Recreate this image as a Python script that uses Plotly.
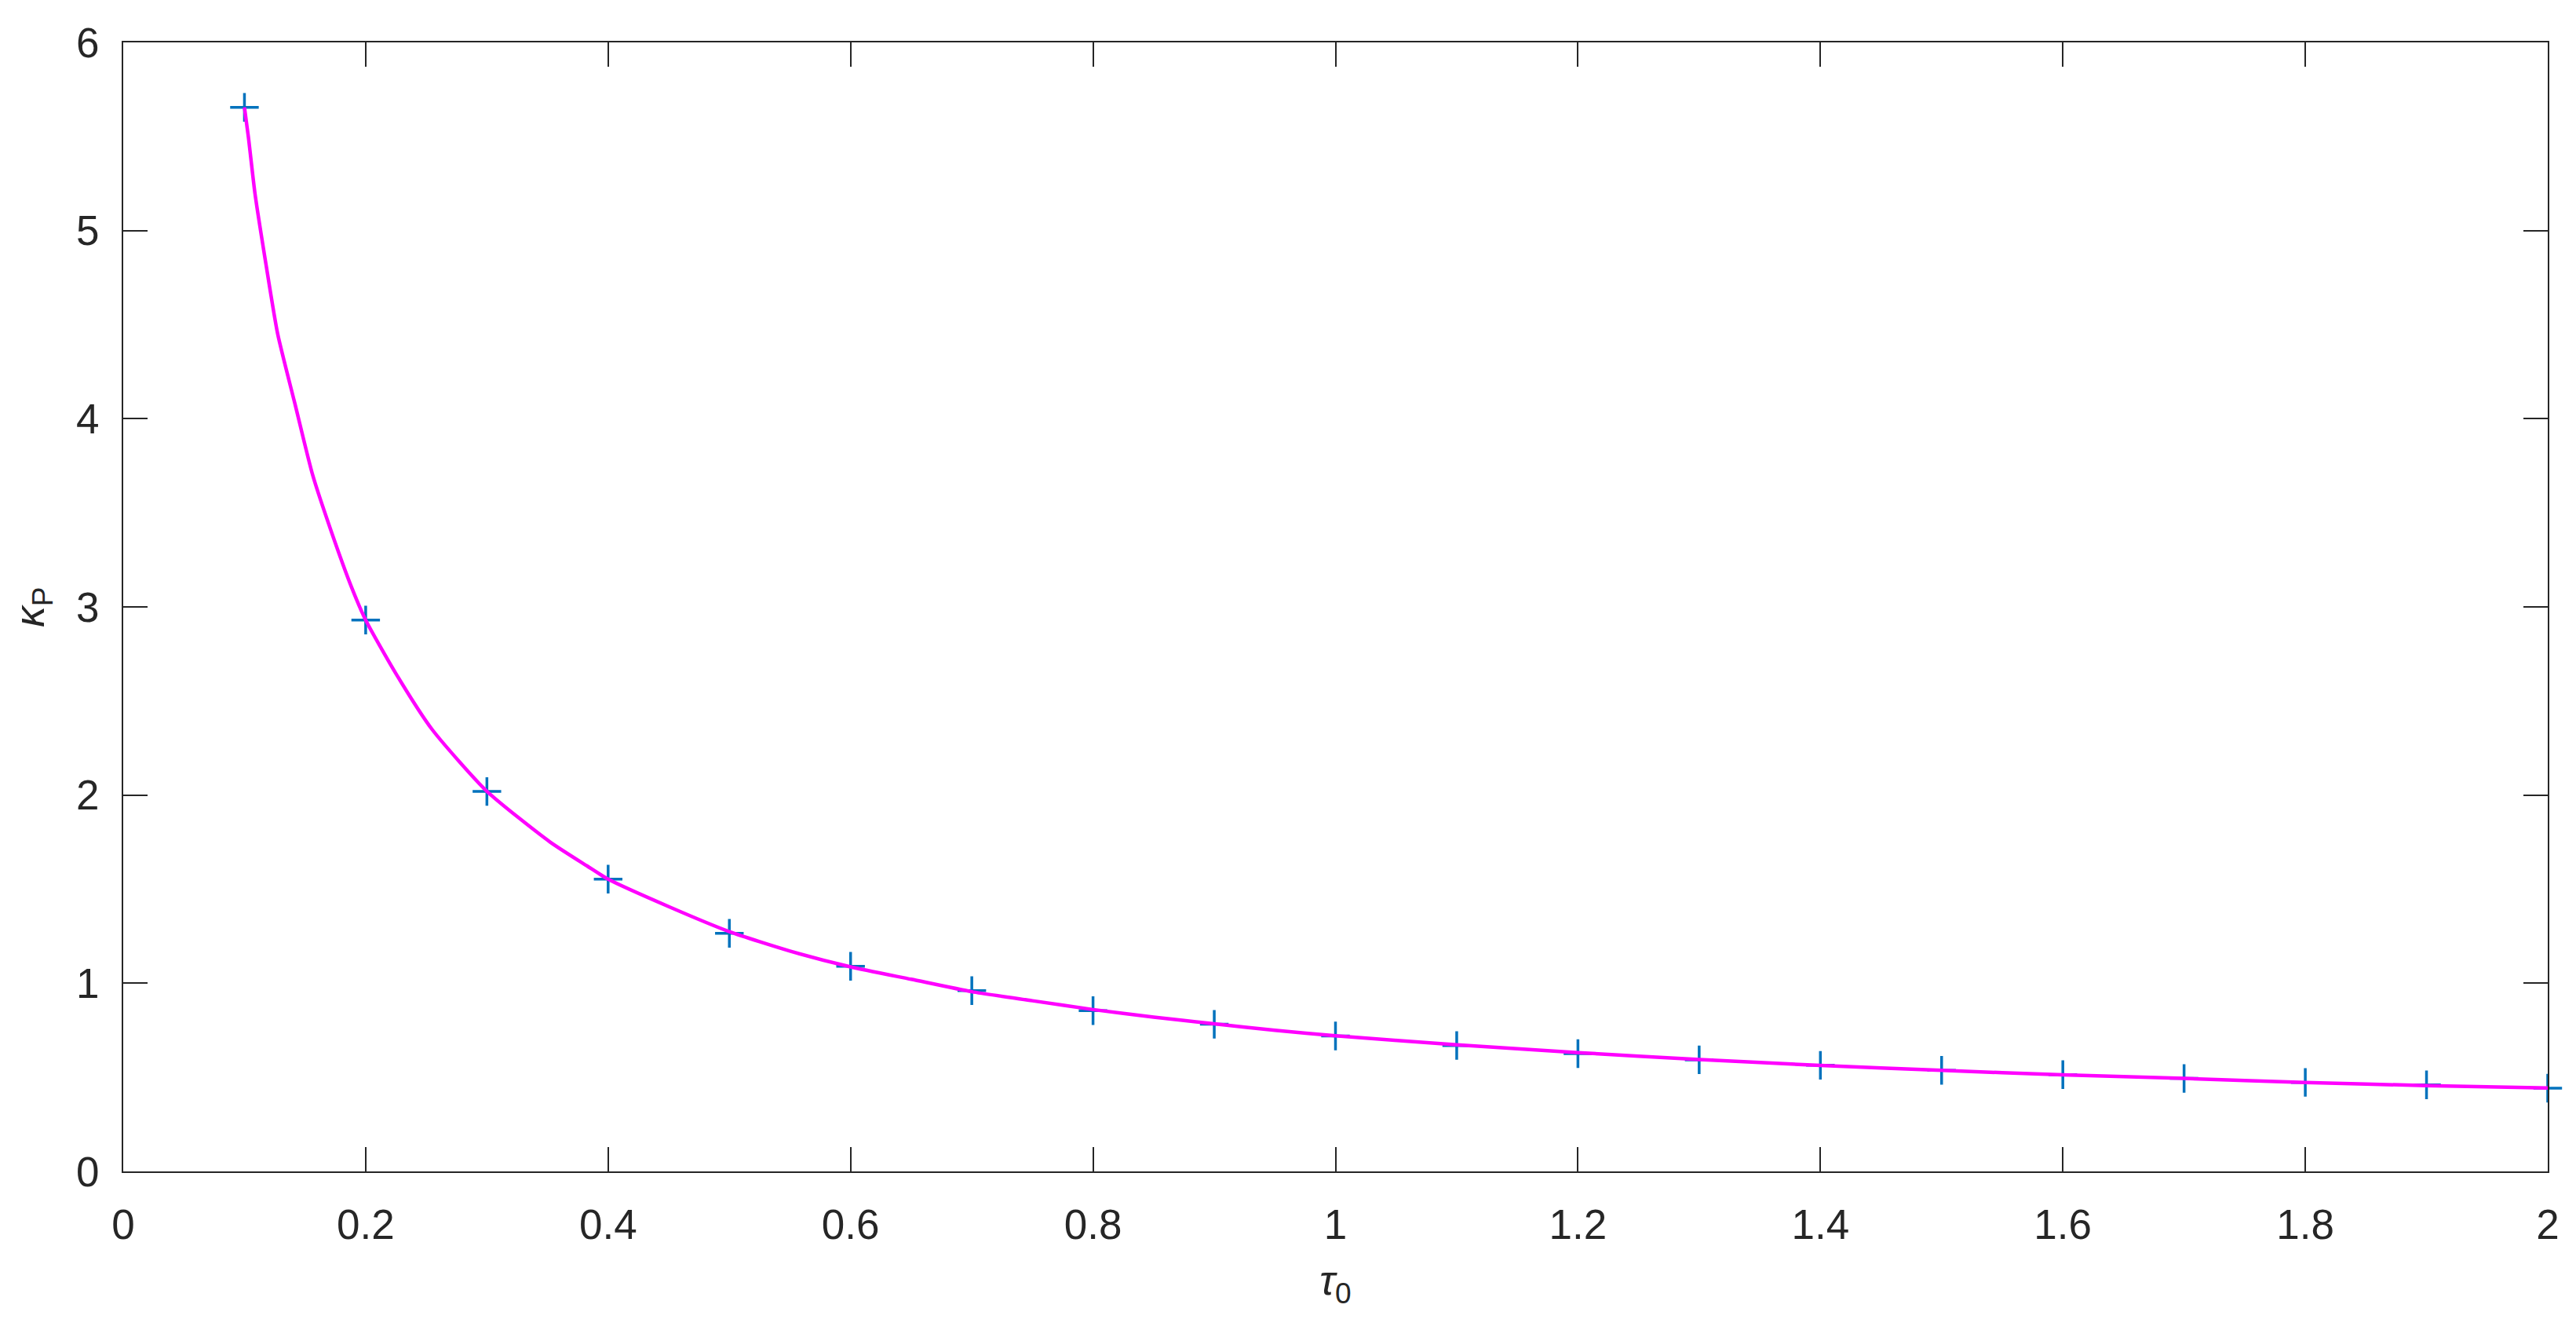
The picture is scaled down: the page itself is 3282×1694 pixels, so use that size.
"""
plot.py — kappa_P versus tau_0, MATLAB-style line + marker chart.
"""

import plotly.graph_objects as go

# ── Data ─────────────────────────────────────────────────────────────────────
tau_points = [0.1, 0.2, 0.3, 0.4, 0.5, 0.6, 0.7, 0.8, 0.9, 1.0,
              1.1, 1.2, 1.3, 1.4, 1.5, 1.6, 1.7, 1.8, 1.9, 2.0]
kappa_points = [5.655, 2.930, 2.019, 1.553, 1.265, 1.090, 0.961, 0.854, 0.782, 0.720,
                0.669, 0.626, 0.593, 0.564, 0.537, 0.514, 0.494, 0.473, 0.460, 0.442]

tau_curve = [0.1, 0.1033, 0.1087, 0.1177, 0.1274, 0.1417, 0.1563, 0.1722, 0.188, 0.2,
             0.225, 0.255, 0.3, 0.352, 0.3827, 0.4, 0.45, 0.5, 0.55, 0.6,
             0.65, 0.7, 0.75, 0.8, 0.85, 0.9, 0.95, 1.0, 1.1, 1.2,
             1.3, 1.4, 1.5, 1.6, 1.7, 1.8, 1.9, 2.0]
kappa_curve = [5.655, 5.494, 5.196, 4.823, 4.451, 4.078, 3.700, 3.390, 3.110, 2.930,
               2.645, 2.347, 2.020, 1.751, 1.623, 1.553, 1.407, 1.274, 1.171, 1.087,
               1.021, 0.955, 0.907, 0.860, 0.820, 0.784, 0.750, 0.721, 0.673, 0.631,
               0.595, 0.563, 0.537, 0.513, 0.494, 0.473, 0.456, 0.443]

x_ticks = [0, 0.2, 0.4, 0.6, 0.8, 1, 1.2, 1.4, 1.6, 1.8, 2]
x_tick_text = ["0", "0.2", "0.4", "0.6", "0.8", "1", "1.2", "1.4", "1.6", "1.8", "2"]
y_ticks = [0, 1, 2, 3, 4, 5, 6]

# ── Style ────────────────────────────────────────────────────────────────────
AXIS = "#262626"
MARKER = "#0072BD"
CURVE = "#FF00FF"
FONT = "Liberation Sans, Arial, Helvetica, sans-serif"
FS = 53

fig = go.Figure()

fig.add_trace(go.Scatter(
    x=tau_points, y=kappa_points, mode="markers",
    marker=dict(symbol="cross-thin", size=26, line=dict(color=MARKER, width=3.5)),
    cliponaxis=False, showlegend=False,
))
fig.add_trace(go.Scatter(
    x=tau_curve, y=kappa_curve, mode="lines",
    line=dict(color=CURVE, width=4.5, shape="spline", smoothing=0.6),
    showlegend=False,
))

axis_common = dict(
    showgrid=False, zeroline=False,
    showline=True, linecolor=AXIS, linewidth=2,
    mirror="ticks", ticks="inside", ticklen=31, tickwidth=2, tickcolor=AXIS,
    tickfont=dict(family=FONT, size=FS, color=AXIS),
)

fig.update_layout(
    width=3282, height=1694,
    paper_bgcolor="white", plot_bgcolor="white",
    margin=dict(l=149, r=44, t=46, b=210),
    font=dict(family=FONT, size=FS, color=AXIS),
    xaxis=dict(
        **axis_common, range=[0, 2],
        tickvals=x_ticks, ticktext=x_tick_text, ticklabelstandoff=20,
        title=dict(text="<i>τ</i><sub>0</sub>", font=dict(size=FS), standoff=24),
    ),
    yaxis=dict(
        **axis_common, range=[0, 6],
        tickvals=y_ticks, ticklabelstandoff=18,
        title=dict(text="<i>κ</i><sub>P</sub>", font=dict(size=FS), standoff=30),
    ),
)

fig.write_html("out.html")
